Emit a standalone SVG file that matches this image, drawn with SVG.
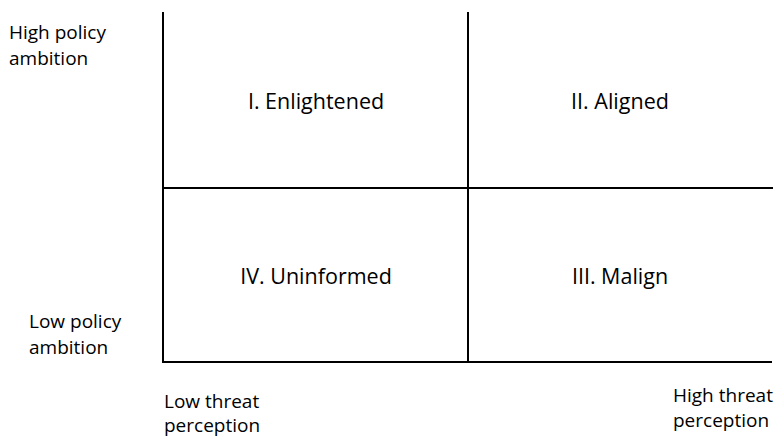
<svg xmlns="http://www.w3.org/2000/svg" width="777" height="438" viewBox="0 0 777 438">
<style>
.ax{stroke:#000;stroke-width:2;fill:none}
.lb{font-family:"Open Sans","Liberation Sans",sans-serif;font-size:19px;fill:#000}
.q{font-family:"Open Sans","Liberation Sans",sans-serif;font-size:21.5px;fill:#000;text-anchor:middle}
</style>
<rect width="777" height="438" fill="#fff"/>
<g id="connectors">
<line class="ax" x1="163" y1="12" x2="163" y2="363"/>
<line class="ax" x1="162" y1="362" x2="772" y2="362"/>
<line class="ax" x1="468" y1="12" x2="468" y2="362"/>
<line class="ax" x1="163" y1="188" x2="773" y2="188"/>
</g>
<g id="y-high"><text class="lb" x="9" y="39">High policy</text><text class="lb" x="9" y="65">ambition</text></g>
<g id="y-low"><text class="lb" x="29" y="328">Low policy</text><text class="lb" x="29" y="354">ambition</text></g>
<g id="x-low"><text class="lb" x="164" y="408">Low threat</text><text class="lb" x="164" y="432">perception</text></g>
<g id="x-high"><text class="lb" x="673" y="402">High threat</text><text class="lb" x="673" y="427">perception</text></g>
<g id="q1"><text class="q" x="316" y="109">I. Enlightened</text></g>
<g id="q2"><text class="q" x="620" y="109">II. Aligned</text></g>
<g id="q4"><text class="q" x="316" y="284">IV. Uninformed</text></g>
<g id="q3"><text class="q" x="620" y="284">III. Malign</text></g>
</svg>
